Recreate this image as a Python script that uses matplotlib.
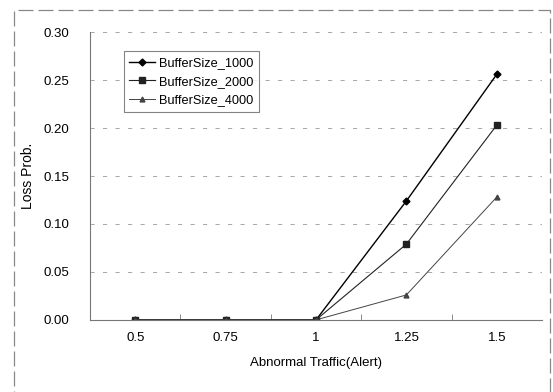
import matplotlib.pyplot as plt
from matplotlib.patches import Rectangle

plt.rcParams['font.family'] = ['Liberation Sans', 'DejaVu Sans']

# data
categories = ['0.5', '0.75', '1', '1.25', '1.5']
buf_1000 = [0.0, 0.0, 0.0, 0.124, 0.256]
buf_2000 = [0.0, 0.0, 0.0, 0.079, 0.203]
buf_4000 = [0.0, 0.0, 0.0, 0.026, 0.128]
yticks = [0.0, 0.05, 0.10, 0.15, 0.20, 0.25, 0.30]

fig = plt.figure(figsize=(5.53, 3.92), dpi=100)
ax = fig.add_axes([0.163, 0.184, 0.817, 0.734])

x = list(range(len(categories)))
ax.plot(x, buf_1000, color='black', lw=1.0, marker='D', ms=3.5, label='BufferSize_1000')
ax.plot(x, buf_2000, color='#222222', lw=0.8, marker='s', ms=4, label='BufferSize_2000')
ax.plot(x, buf_4000, color='#444444', lw=0.7, marker='^', ms=3.5, label='BufferSize_4000')

ax.set_xlim(-0.5, len(categories) - 0.5)
ax.set_ylim(0, 0.30)
ax.set_xticks(x)
ax.set_xticklabels(categories, fontsize=9.5)
ax.set_xticks([i + 0.5 for i in x[:-1]], minor=True)
ax.tick_params(axis='x', which='major', length=0, pad=9)
ax.tick_params(axis='x', which='minor', direction='in', length=4, color='#777777')
ax.set_yticks(yticks)
ax.set_yticklabels(['%.2f' % v for v in yticks], fontsize=9.5)
ax.tick_params(axis='y', length=0, pad=15)

for v in yticks[1:]:
    ax.axhline(v, color='#999999', lw=0.6, ls=(0, (5, 10)), zorder=0)

for s in ['top', 'right']:
    ax.spines[s].set_visible(False)
ax.spines['left'].set_color('#777777')
ax.spines['bottom'].set_color('#777777')
ax.spines['left'].set_linewidth(0.8)
ax.spines['bottom'].set_linewidth(0.8)

ax.set_xlabel('Abnormal Traffic(Alert)', fontsize=9.5, labelpad=9)
ax.set_ylabel('Loss Prob.', fontsize=10, labelpad=6)

leg = ax.legend(loc='upper left', bbox_to_anchor=(0.06, 0.955), fontsize=9.2,
                frameon=True, fancybox=False, handlelength=2.0, handletextpad=0.3,
                borderpad=0.45, labelspacing=0.5)
leg.get_frame().set_edgecolor('#666666')
leg.get_frame().set_linewidth(0.8)

# outer chart border
fig.patches.append(Rectangle((14 / 553, -0.05), 536 / 553, 1.05 - 10 / 392,
                             transform=fig.transFigure, fill=False,
                             edgecolor='#888888', lw=0.9, ls=(0, (12, 4))))

fig.savefig('out.png', dpi=100)
